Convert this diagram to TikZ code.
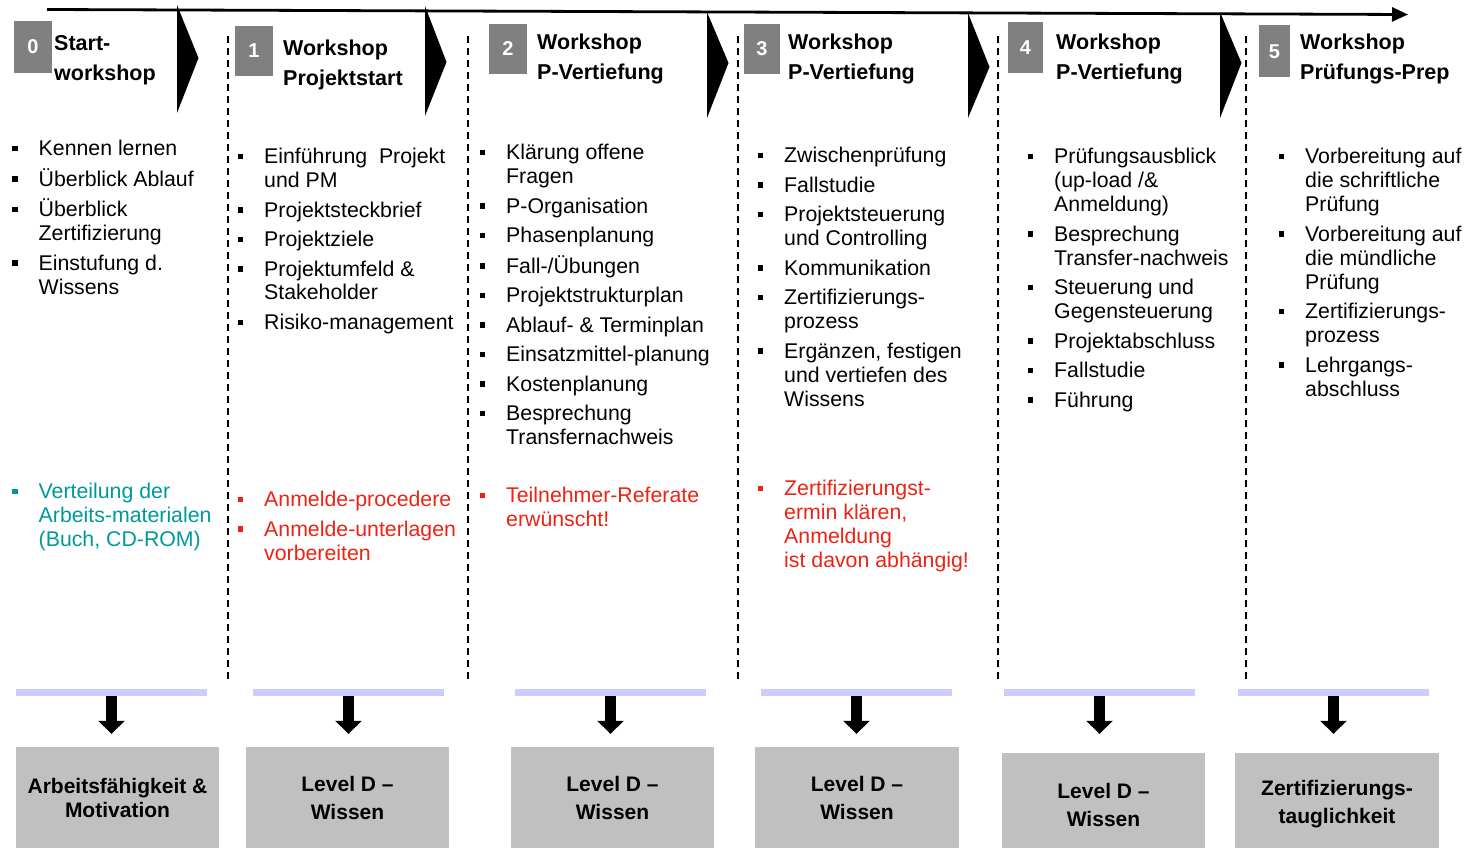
\documentclass[tikz,border=0pt]{standalone}
\usepackage{fontspec}
\setmainfont{Liberation Sans}
\usetikzlibrary{arrows.meta, positioning, calc}

\definecolor{numgray}{RGB}{128,128,128}
\definecolor{boxgray}{RGB}{192,192,192}
\definecolor{barblue}{RGB}{204,204,255}
\definecolor{notered}{RGB}{235,35,20}
\definecolor{noteteal}{RGB}{0,153,153}

\newcommand{\bul}{\rule[4.5pt]{5.5pt}{5.5pt}}

\begin{document}
\begin{tikzpicture}[
    x=1pt, y=-1pt,
    timeline/.style={-{Triangle[length=16pt,width=14pt]}, line width=2.8pt},
    sep/.style={dash pattern=on 7pt off 5pt, line width=1.4pt},
    num/.style={fill=numgray, text=white, inner sep=0pt, font=\fontsize{20}{22}\selectfont\bfseries},
    title/.style={anchor=west, inner sep=0pt, font=\fontsize{21.5}{30}\selectfont\bfseries},
    list/.style={anchor=north west, inner sep=0pt, font=\fontsize{21.3}{24}\selectfont},
    bar/.style={fill=barblue, inner sep=0pt, minimum width=191pt, minimum height=7pt},
    down/.style={-{Triangle[length=13pt,width=26pt]}, line width=11pt},
    result/.style={fill=boxgray, inner sep=0pt, minimum width=203pt, minimum height=102pt,
        align=center, font=\fontsize{21}{28}\selectfont\bfseries}
]
\useasboundingbox (0,0) rectangle (1476,848);

% === TIMELINE ===
\coordinate (tlL) at (47,9.5);
\coordinate (tlR) at (1408,14.5);
\draw[timeline] (tlL) -- (tlR);

% chevrons hanging from the timeline
\foreach \x/\t/\b/\m in {177/5/113/58, 425/6/116/62, 707/12/118/63, 968/13/118/67, 1220/12/118/63}
    \fill (\x,\t) -- (\x,\b) -- (\x+21.5,\m) -- cycle;

% column separators
\foreach \x in {228,468,738,998,1246}
    \draw[sep] (\x,36) -- (\x,681);

% === HEADERS ===
\node[num, minimum width=38pt, minimum height=52pt] (num0) at (33,47) {0};
\node[title] (ttl0) at (54,59.5) {\begin{tabular}{@{}l@{}}Start-\\workshop\end{tabular}};

\node[num, minimum width=38pt, minimum height=50pt] (num1) at (254,51) {1};
\node[title] (ttl1) at (283,64.5) {\begin{tabular}{@{}l@{}}Workshop\\Projektstart\end{tabular}};

\node[num, minimum width=38pt, minimum height=50pt] (num2) at (508,49) {2};
\node[title] (ttl2) at (537,58.5) {\begin{tabular}{@{}l@{}}Workshop\\P-Vertiefung\end{tabular}};

\node[num, minimum width=36pt, minimum height=50pt] (num3) at (762,49) {3};
\node[title] (ttl3) at (788,58.5) {\begin{tabular}{@{}l@{}}Workshop\\P-Vertiefung\end{tabular}};

\node[num, minimum width=35pt, minimum height=51pt] (num4) at (1025.5,47.5) {4};
\node[title] (ttl4) at (1056,59) {\begin{tabular}{@{}l@{}}Workshop\\P-Vertiefung\end{tabular}};

\node[num, minimum width=31pt, minimum height=52pt] (num5) at (1274.5,51.5) {5};
\node[title] (ttl5) at (1300,59) {\begin{tabular}{@{}l@{}}Workshop\\Prüfungs-Prep\end{tabular}};

% === CONTENT LISTS ===
\node[list] (list0) at (12,138.5) {\begin{tabular}{@{}l@{\hspace{21pt}}l@{}}
    \bul & Kennen lernen\\[5.5pt]
    \bul & Überblick Ablauf\\[5.5pt]
    \bul & Überblick\\ & Zertifizierung\\[5.5pt]
    \bul & Einstufung d.\\ & Wissens
\end{tabular}};

\node[list] (list1) at (237.5,146.5) {\begin{tabular}{@{}l@{\hspace{21pt}}l@{}}
    \bul & Einführung\ \ Projekt\\ & und PM\\[5.5pt]
    \bul & Projektsteckbrief\\[5.5pt]
    \bul & Projektziele\\[5.5pt]
    \bul & Projektumfeld \&\\ & Stakeholder\\[5.5pt]
    \bul & Risiko-management
\end{tabular}};

\node[list] (list2) at (479.5,142.5) {\begin{tabular}{@{}l@{\hspace{21pt}}l@{}}
    \bul & Klärung offene\\ & Fragen\\[5.5pt]
    \bul & P-Organisation\\[5.5pt]
    \bul & Phasenplanung\\[5.5pt]
    \bul & Fall-/Übungen\\[5.5pt]
    \bul & Projektstrukturplan\\[5.5pt]
    \bul & Ablauf- \& Terminplan\\[5.5pt]
    \bul & Einsatzmittel-planung\\[5.5pt]
    \bul & Kostenplanung\\[5.5pt]
    \bul & Besprechung\\ & Transfernachweis
\end{tabular}};

\node[list] (list3) at (757.5,145.5) {\begin{tabular}{@{}l@{\hspace{21pt}}l@{}}
    \bul & Zwischenprüfung\\[5.5pt]
    \bul & Fallstudie\\[5.5pt]
    \bul & Projektsteuerung\\ & und Controlling\\[5.5pt]
    \bul & Kommunikation\\[5.5pt]
    \bul & Zertifizierungs-\\ & prozess\\[5.5pt]
    \bul & Ergänzen, festigen\\ & und vertiefen des\\ & Wissens
\end{tabular}};

\node[list] (list4) at (1027.5,146.5) {\begin{tabular}{@{}l@{\hspace{21pt}}l@{}}
    \bul & Prüfungsausblick\\ & (up-load /\&\\ & Anmeldung)\\[5.5pt]
    \bul & Besprechung\\ & Transfer-nachweis\\[5.5pt]
    \bul & Steuerung und\\ & Gegensteuerung\\[5.5pt]
    \bul & Projektabschluss\\[5.5pt]
    \bul & Fallstudie\\[5.5pt]
    \bul & Führung
\end{tabular}};

\node[list] (list5) at (1278.5,146.5) {\begin{tabular}{@{}l@{\hspace{21pt}}l@{}}
    \bul & Vorbereitung auf\\ & die schriftliche\\ & Prüfung\\[5.5pt]
    \bul & Vorbereitung auf\\ & die mündliche\\ & Prüfung\\[5.5pt]
    \bul & Zertifizierungs-\\ & prozess\\[5.5pt]
    \bul & Lehrgangs-\\ & abschluss
\end{tabular}};

% === NOTES ===
\node[list, text=noteteal] (note0) at (12,481.5) {\begin{tabular}{@{}l@{\hspace{21pt}}l@{}}
    \bul & Verteilung der\\ & Arbeits-materialen\\ & (Buch, CD-ROM)
\end{tabular}};

\node[list, text=notered] (note1) at (237.5,489.5) {\begin{tabular}{@{}l@{\hspace{21pt}}l@{}}
    \bul & Anmelde-procedere\\[5.5pt]
    \bul & Anmelde-unterlagen\\ & vorbereiten
\end{tabular}};

\node[list, text=notered] (note2) at (479.5,485.5) {\begin{tabular}{@{}l@{\hspace{21pt}}l@{}}
    \bul & Teilnehmer-Referate\\ & erwünscht!
\end{tabular}};

\node[list, text=notered] (note3) at (757.5,478.5) {\begin{tabular}{@{}l@{\hspace{21pt}}l@{}}
    \bul & Zertifizierungst-\\ & ermin klären,\\ & Anmeldung\\ & ist davon abhängig!
\end{tabular}};

% === RESULTS ===
\node[bar] (bar0) at (111.5,692.5) {};
\node[bar] (bar1) at (348.5,692.5) {};
\node[bar] (bar2) at (610.5,692.5) {};
\node[bar] (bar3) at (856.5,692.5) {};
\node[bar] (bar4) at (1099.5,692.5) {};
\node[bar] (bar5) at (1333.5,692.5) {};

\node[result, font=\fontsize{21}{24}\selectfont\bfseries] (res0) at (117.5,798) {Arbeitsfähigkeit \&\\Motivation};
\node[result] (res1) at (347.5,798) {Level D --\\Wissen};
\node[result] (res2) at (612.5,798) {Level D --\\Wissen};
\node[result, minimum width=204pt] (res3) at (857,798) {Level D --\\Wissen};
\node[result, minimum height=103pt] (res4) at (1103.5,804.5) {Level D --\\Wissen};
\node[result, minimum width=204pt, minimum height=103pt] (res5) at (1337,804.5) {Zertifizierungs-\\tauglichkeit};

\draw[down, shorten >=13pt] (bar0.south) -- (bar0.south |- res0.north);
\draw[down, shorten >=13pt] (bar1.south) -- (bar1.south |- res1.north);
\draw[down, shorten >=13pt] (bar2.south) -- (bar2.south |- res2.north);
\draw[down, shorten >=13pt] (bar3.south) -- (bar3.south |- res3.north);
\draw[down, shorten >=19pt] (bar4.south) -- (bar4.south |- res4.north);
\draw[down, shorten >=19pt] (bar5.south) -- (bar5.south |- res5.north);

\end{tikzpicture}
\end{document}
